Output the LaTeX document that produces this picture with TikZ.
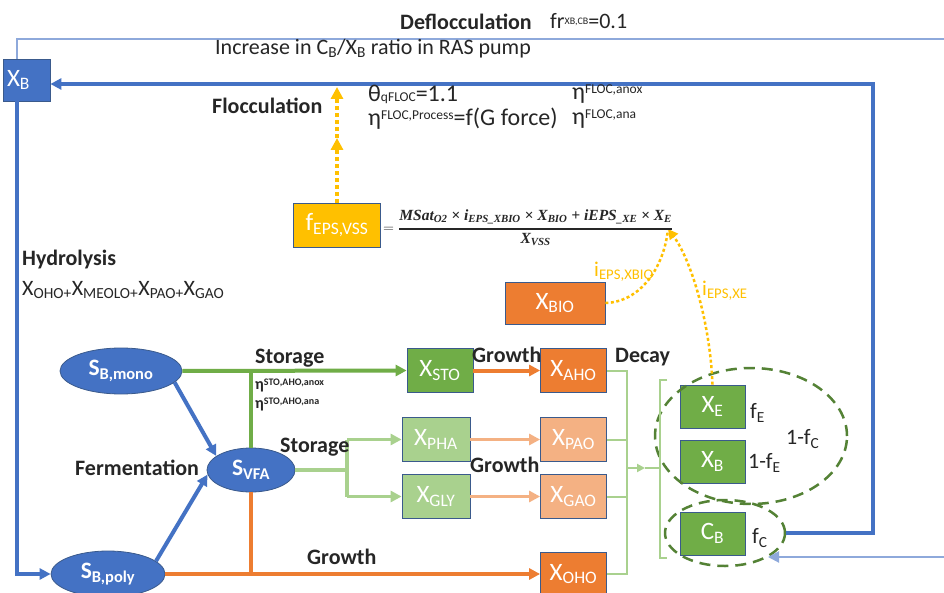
\documentclass[tikz,border=0pt]{standalone}
\usepackage{fontspec}
\usepackage{amsmath}
\setmainfont{Carlito}
\newfontfamily\eqfont{Liberation Serif}
\usetikzlibrary{arrows.meta,shapes.geometric,calc}

\definecolor{obl}{HTML}{4472C4}
\definecolor{thinbl}{HTML}{8EA9DB}
\definecolor{bord}{HTML}{3A5A8C}
\definecolor{gr}{HTML}{70AD47}
\definecolor{lgr}{HTML}{A9D18E}
\definecolor{dgr}{HTML}{548235}
\definecolor{org}{HTML}{ED7D31}
\definecolor{lorg}{HTML}{F4B183}
\definecolor{yel}{HTML}{FFC000}
\definecolor{txt}{HTML}{262626}

% small raised index, as used for the rate factors
\newcommand{\hisup}[1]{{\fontsize{13.5}{14}\selectfont\raisebox{6pt}{#1}}}
\newcommand{\losup}[1]{{\fontsize{10}{11}\selectfont\raisebox{3.5pt}{#1}}}

\tikzset{
  lbl/.style={anchor=west, inner sep=0pt, text=txt, font=\fontsize{22}{26}\selectfont},
  flbl/.style={anchor=west, inner sep=0pt, text=txt, font=\fontsize{24}{28}\selectfont},
  blbl/.style={anchor=west, inner sep=0pt, text=txt, font=\fontsize{22}{26}\selectfont\bfseries},
  slbl/.style={anchor=west, inner sep=0pt, text=txt, font=\fontsize{16}{18}\selectfont\bfseries},
  ylbl/.style={inner sep=0pt, text=yel, font=\fontsize{21}{24}\selectfont},
  box/.style={rectangle, draw=bord, line width=0.8pt, text=white, minimum width=66pt,
    minimum height=44pt, inner sep=0pt, font=\fontsize{25}{28}\selectfont},
  ell/.style={ellipse, fill=obl, draw=bord, line width=0.8pt, text=white, inner sep=0pt,
    font=\fontsize{23.5}{26}\selectfont\bfseries},
  tip/.style={-{Triangle[length=11pt,width=11pt]}},
  stip/.style={-{Triangle[length=8pt,width=8pt]}},
  bluethick/.style={draw=obl, line width=4pt},
  bluethin/.style={draw=thinbl, line width=2pt},
  yeldot/.style={draw=yel, line width=3.5pt, dash pattern=on 4pt off 3pt},
  yeldotthin/.style={draw=yel, line width=2.5pt, dash pattern=on 3pt off 2.5pt},
  dashring/.style={ellipse, draw=dgr, line width=2.5pt, dash pattern=on 11pt off 7pt, inner sep=0pt},
}

\begin{document}
\begin{tikzpicture}[x=1pt,y=-1pt]
\useasboundingbox (0,0) rectangle (944,593);
\fill[white] (0,0) rectangle (944,593);

% ---------- nodes ----------
\node[box, fill=obl, minimum width=47pt, minimum height=42pt] (xbtop) at (26.5,80) {\hspace*{-16pt}X\textsubscript{B}};

\node[ell, minimum width=122pt, minimum height=46pt] (sbmono) at (121,371) {S\textsubscript{B,mono}};
\node[ell, minimum width=88pt, minimum height=44pt] (svfa) at (251,470) {S\textsubscript{VFA}};
\node[ell, minimum width=114pt, minimum height=46pt] (sbpoly) at (108,574) {S\textsubscript{B,poly}};

\node[box, fill=gr] (xsto) at (440,370.5) {X\textsubscript{STO}};
\node[box, fill=org] (xaho) at (573.5,370.5) {X\textsubscript{AHO}};
\node[box, fill=lgr, minimum width=68pt] (xpha) at (436,439.5) {X\textsubscript{PHA}};
\node[box, fill=lorg] (xpao) at (573.5,439.5) {X\textsubscript{PAO}};
\node[box, fill=lgr, minimum width=68pt] (xgly) at (436,496.5) {X\textsubscript{GLY}};
\node[box, fill=lorg] (xgao) at (573.5,496.5) {X\textsubscript{GAO}};
\node[box, fill=org] (xoho) at (573.5,574) {X\textsubscript{OHO}};

\node[box, fill=gr, minimum width=65pt, minimum height=43pt] (xe) at (712.5,406.5) {X\textsubscript{E}};
\node[box, fill=gr, minimum width=65pt, minimum height=43pt] (xbm) at (712.5,461.5) {X\textsubscript{B}};
\node[box, fill=gr, minimum width=65pt, minimum height=43pt] (cb) at (712.5,533.5) {C\textsubscript{B}};

\node[box, fill=org, minimum width=100pt, minimum height=42pt] (xbio) at (555,303) {X\textsubscript{BIO}};
\node[box, fill=yel, minimum width=87pt, minimum height=44pt] (feps) at (337,225) {f\textsubscript{EPS,VSS}};

% dashed groupings
\node[dashring, minimum width=192pt, minimum height=136pt] (ring1) at (751,436) {};
\node[dashring, minimum width=120pt, minimum height=66pt] (ring2) at (725,533) {};

% ---------- helper coordinates ----------
\coordinate (lx) at (17,0);
\coordinate (edgetop) at (944,39);
\coordinate (edgebot) at (944,557);
\coordinate (ringin) at (768,557);
\coordinate (rcorner) at (873,84);
\coordinate (lgsplit) at (347,470);
\coordinate (dbus) at (627,468);
\coordinate (darrow) at (645,468);
\coordinate (brk) at (660,468);
\coordinate (brktop) at (660,380);
\coordinate (brkbot) at (660,558);
\coordinate (brktopr) at (667,380);
\coordinate (brkbotr) at (667,558);
\coordinate (ymid) at (337,138);
\coordinate (ytop) at (337,87);
\coordinate (eqtip) at (668,229);

% ---------- blue recycle lines ----------
\draw[bluethin] (lx |- xbtop.north) -- (lx |- edgetop) -- (edgetop);
\draw[bluethin, tip] (edgebot) -- (ringin);
\draw[bluethick, tip] (ring2.east) -| (rcorner) -- (rcorner -| xbtop.east);
\draw[bluethick, tip] (lx |- xbtop.south) -- (lx |- sbpoly.west) -- (sbpoly.west);

% ---------- substrate conversions ----------
\draw[bluethick, tip] (sbmono.-12) -- (svfa.158);
\draw[bluethick, tip] (sbpoly.15) -- (svfa.186);

\draw[draw=gr, line width=4pt, tip] (sbmono.east) -- (xsto.west);
\draw[draw=gr, line width=4pt] (svfa.north |- sbmono.east) -- (svfa.north);

\draw[draw=org, line width=4pt, tip] (sbpoly.east) -- (xoho.west);
\draw[draw=org, line width=4pt] (svfa.south) -- (svfa.south |- sbpoly.east);

\draw[draw=lgr, line width=3.5pt] (svfa.east) -- (lgsplit);
\draw[draw=lgr, line width=3.5pt] (lgsplit |- xpha.west) -- (lgsplit |- xgly.west);
\draw[draw=lgr, line width=3.5pt, tip] (lgsplit |- xpha.west) -- (xpha.west);
\draw[draw=lgr, line width=3.5pt, tip] (lgsplit |- xgly.west) -- (xgly.west);

\draw[draw=org, line width=4pt, tip] (xsto.east) -- (xaho.west);
\draw[draw=lorg, line width=3.5pt, tip] (xpha.east) -- (xpao.west);
\draw[draw=lorg, line width=3.5pt, tip] (xgly.east) -- (xgao.west);

% ---------- decay ----------
\draw[draw=lgr, line width=2pt] (xaho.east) -- (xaho.east -| dbus) -- (xoho.east -| dbus) -- (xoho.east);
\draw[draw=lgr, line width=2pt] (xpao.east) -- (xpao.east -| dbus);
\draw[draw=lgr, line width=2pt] (xgao.east) -- (xgao.east -| dbus);
\draw[draw=lgr, line width=2pt, stip] (dbus) -- (darrow);
\draw[draw=lgr, line width=2pt] (darrow) -- (brk);
\draw[draw=lgr, line width=2pt] (brktopr) -- (brktop) -- (brkbot) -- (brkbotr);

% ---------- EPS ----------
\draw[yeldot, -{Triangle[length=12pt,width=12pt]}] (feps.north) -- (ymid);
\draw[yeldot, -{Triangle[length=12pt,width=12pt]}] (ymid) -- (ytop);
\draw[yeldotthin] (xbio.east) .. controls (640,302) and (664,268) .. (eqtip);
\draw[yeldotthin, -{Triangle[length=10pt,width=10pt]}] (xe.north) .. controls (710,320) and (690,258) .. (eqtip);

\node[anchor=west, inner sep=0pt, text=txt] (feq) at (383,228)
  {\fontsize{15.5}{18}\selectfont $=\genfrac{}{}{1.3pt}{0}
   {\hbox{\eqfont\bfseries\itshape MSat\textsubscript{O2} × i\textsubscript{EPS\_XBIO} × X\textsubscript{BIO} + iEPS\textsubscript{\_XE} × X\textsubscript{E}}}
   {\hbox{\eqfont\bfseries\itshape X\textsubscript{VSS}}}$};

\node[ylbl] (lxbio) at (624,272) {i\textsubscript{EPS,XBIO}};
\node[ylbl, anchor=west] (lxe) at (702,291) {i\textsubscript{EPS,XE}};

% ---------- labels ----------
\node[blbl] (tdefl) at (400,22) {Deflocculation};
\node[lbl] (tfr) at (550,21) {fr\losup{XB,CB}=0.1};
\node[lbl] (tinc) at (215,49) {Increase in C\textsubscript{B}/X\textsubscript{B} ratio in RAS pump};
\node[blbl] (tfloc) at (212,106) {Flocculation};
\node[flbl] (ttheta) at (368,94) {θ{\fontsize{13.5}{14}\selectfont qFLOC}=1.1};
\node[flbl] (tetaanox) at (572,94) {η\hisup{FLOC,anox}};
\node[flbl] (tetaproc) at (368,119) {η\hisup{FLOC,Process}=f(G force)};
\node[flbl] (tetaana) at (572,119) {η\hisup{FLOC,ana}};

\node[blbl] (thyd) at (22,260) {Hydrolysis};
\node[lbl] (thydx) at (22,290) {X\textsubscript{OHO+}X\textsubscript{MEOLO+}X\textsubscript{PAO+}X\textsubscript{GAO}};

\node[blbl] (tsto1) at (255,358) {Storage};
\node[slbl] (teta1) at (255,385) {η{\fontsize{10}{11}\selectfont\raisebox{4pt}{STO,AHO,anox}}};
\node[slbl] (teta2) at (255,404) {η{\fontsize{10}{11}\selectfont\raisebox{4pt}{STO,AHO,ana}}};
\node[blbl] (tsto2) at (280,447) {Storage};
\node[blbl] (tferm) at (75,468) {Fermentation};

\node[blbl] (tgr1) at (472,355) {Growth};
\node[blbl] (tgr2) at (470,465) {Growth};
\node[blbl] (tgr3) at (307,557) {Growth};
\node[blbl] (tdec) at (615,357) {Decay};

\node[lbl] (tfe) at (750,413) {f\textsubscript{E}};
\node[lbl] (t1fe) at (748,463) {1-f\textsubscript{E}};
\node[lbl] (t1fc) at (786,439) {1-f\textsubscript{C}};
\node[lbl] (tfc) at (752,538) {f\textsubscript{C}};
\end{tikzpicture}
\end{document}
